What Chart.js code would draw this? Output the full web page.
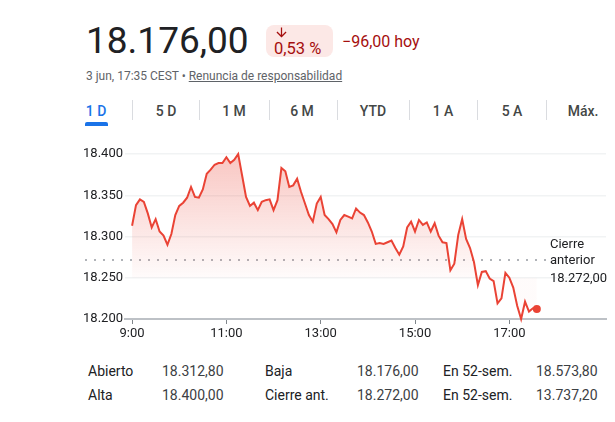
<!DOCTYPE html>
<html><head><meta charset="utf-8">
<script src="https://cdn.jsdelivr.net/npm/chart.js@4"></script>
<style>
body{margin:0;width:615px;height:422px;background:#fff;font-family:Roboto,Arial,sans-serif;color:#202124;position:relative;overflow:hidden}
.a{position:absolute;white-space:nowrap}
.tab{position:absolute;top:104px;font-size:14px;line-height:14px;font-weight:500;color:#444746;transform:translateX(-50%);white-space:nowrap}
.sep{position:absolute;top:100px;width:1px;height:20px;background:#dadce0}
.t{position:absolute;font-size:14px;line-height:14px;white-space:nowrap}
.l{color:#202124}.v{color:#3c4043}
</style></head><body>
<div class="a" style="left:86px;top:22px;font-size:37px;line-height:37px">18.176,00</div>
<div class="a" style="left:266px;top:25px;width:67px;height:32px;background:#fce8e6;border-radius:8px"></div>
<svg class="a" style="left:274px;top:25px" width="15" height="15" viewBox="0 0 24 24"><path d="M20 12l-1.41-1.41L13 16.17V4h-2v12.17l-5.58-5.59L4 12l8 8 8-8z" fill="#a50e0e"/></svg>
<div class="a" style="left:274px;top:41px;font-size:16.5px;line-height:16px;color:#a50e0e">0,53 %</div>
<div class="a" style="left:342px;top:33.5px;font-size:16px;line-height:16px;color:#a50e0e">−96,00 hoy</div>
<div class="a" style="left:86px;top:70px;font-size:12px;line-height:12px;color:#5f6368">3 jun, 17:35 CEST • <span style="text-decoration:underline">Renuncia de responsabilidad</span></div>

<div class="tab" style="left:96px;color:#1a73e8">1 D</div>
<div class="a" style="left:85px;top:122px;width:23px;height:4px;background:#1a73e8;border-radius:2px 2px 0 0"></div>
<div class="sep" style="left:132px"></div>
<div class="tab" style="left:166px">5 D</div>
<div class="sep" style="left:199px"></div>
<div class="tab" style="left:234px">1 M</div>
<div class="sep" style="left:269px"></div>
<div class="tab" style="left:302px">6 M</div>
<div class="sep" style="left:337px"></div>
<div class="tab" style="left:373px">YTD</div>
<div class="sep" style="left:409px"></div>
<div class="tab" style="left:443px">1 A</div>
<div class="sep" style="left:477px"></div>
<div class="tab" style="left:512px">5 A</div>
<div class="sep" style="left:546px"></div>
<div class="tab" style="left:583px">Máx.</div>

<canvas id="c" width="615" height="200" style="position:absolute;left:0;top:142px;width:615px;height:200px"></canvas>

<div class="t l" style="left:88px;top:364px">Abierto</div>
<div class="t v" style="left:162px;top:364px">18.312,80</div>
<div class="t l" style="left:265px;top:364px">Baja</div>
<div class="t v" style="left:357px;top:364px">18.176,00</div>
<div class="t l" style="left:443px;top:364px">En 52-sem.</div>
<div class="t v" style="left:536px;top:364px">18.573,80</div>
<div class="t l" style="left:88px;top:388px">Alta</div>
<div class="t v" style="left:162px;top:388px">18.400,00</div>
<div class="t l" style="left:265px;top:388px">Cierre ant.</div>
<div class="t v" style="left:357px;top:388px">18.272,00</div>
<div class="t l" style="left:443px;top:388px">En 52-sem.</div>
<div class="t v" style="left:536px;top:388px">13.737,20</div>

<script>
// Intraday index level, one value every 5 minutes from 9:00 to 17:35
const values = [
18313,18338,18345,18342,18328,18311,18321,18306,18301,18290,
18303,18326,18337,18341,18347,18360,18348,18347,18357,18376,
18381,18387,18389,18389,18396,18389,18393,18400,18374,18348,
18337,18341,18332,18342,18344,18345,18332,18344,18383,18379,
18360,18362,18370,18354,18340,18326,18318,18340,18348,18326,
18321,18315,18305,18320,18326,18324,18322,18334,18329,18326,
18317,18306,18291,18292,18291,18293,18295,18286,18278,18288,
18311,18318,18306,18320,18314,18317,18306,18316,18301,18293,
18292,18259,18267,18302,18321,18297,18286,18269,18241,18257,
18258,18249,18246,18219,18225,18256,18250,18238,18216,18200,
18221,18209,18213,18212
];
const stepMinutes = 5;          // sampling interval, minutes after 9:00
const startHour = 9;
const prevClose = 18272;
const prevCloseLabel = ['Cierre', 'anterior', '18.272,00'];
const xTickMinutes = [0, 120, 240, 360, 480];
const yMin = 18200, yMax = 18400, yStep = 50;

const points = values.map((v, i) => ({x: i * stepMinutes, y: v}));
function fmtK(v){ const s = String(Math.round(v)); return s.slice(0, -3) + '.' + s.slice(-3); }

const prevClosePlugin = {
  id: 'prevClose',
  beforeDatasetsDraw(chart){
    const c = chart.ctx, y = chart.scales.y.getPixelForValue(prevClose);
    c.save();
    c.fillStyle = '#b0b3b8';
    for (let x = 86; x <= 546; x += 9) c.fillRect(x - 1, Math.round(y) - 1, 2, 2);
    c.restore();
  },
  afterDraw(chart){
    const c = chart.ctx, y = chart.scales.y.getPixelForValue(prevClose);
    c.save();
    c.font = '13px Roboto, Arial, sans-serif';
    c.fillStyle = '#202124';
    c.textBaseline = 'alphabetic';
    c.textAlign = 'left';
    const off = [-16.5, 0, 17.5];
    prevCloseLabel.forEach((t, i) => c.fillText(t, 550, y + off[i] + 4.6));
    c.restore();
  }
};

new Chart(document.getElementById('c'), {
  type: 'line',
  data: { datasets: [{
    data: points,
    borderColor: '#ea4335',
    borderWidth: 2,
    tension: 0,
    fill: {value: 18250},
    backgroundColor: (ctx) => {
      const ch = ctx.chart;
      if (!ch.chartArea) return 'transparent';
      const ys = ch.scales.y;
      const g = ch.ctx.createLinearGradient(0, ys.getPixelForValue(18400), 0, ys.getPixelForValue(18250));
      g.addColorStop(0, 'rgba(234,67,53,0.30)');
      g.addColorStop(1, 'rgba(234,67,53,0.02)');
      return g;
    },
    pointRadius: (ctx) => ctx.dataIndex === values.length - 1 ? 4 : 0,
    pointBackgroundColor: '#ea4335',
    pointBorderWidth: 0,
    clip: false
  }]},
  options: {
    responsive: false,
    animation: false,
    layout: { padding: { left: 0, right: 9, top: 12, bottom: 0 } },
    plugins: { legend: {display: false}, tooltip: {enabled: false} },
    scales: {
      x: {
        type: 'linear', min: -9, max: 603,
        afterBuildTicks: (ax) => { ax.ticks = xTickMinutes.map(v => ({value: v})); },
        afterFit: (s) => { s.height = 23; },
        grid: { drawOnChartArea: false, drawTicks: true, tickLength: 5, color: '#80868b', lineWidth: 1 },
        border: { display: true, color: '#bdc1c6', width: 2 },
        ticks: { padding: 2, maxRotation: 0, autoSkip: false, color: '#202124',
          font: { family: 'Roboto', size: 13 },
          callback: (v) => (startHour + v / 60) + ':00' }
      },
      y: {
        min: yMin, max: yMax,
        afterFit: (s) => { s.width = 125; },
        ticks: { stepSize: yStep, padding: 2, color: '#202124',
          font: { family: 'Roboto', size: 13 }, callback: (v) => fmtK(v) },
        grid: { drawTicks: false, color: '#f1f3f4', lineWidth: 1.5 },
        border: { display: false }
      }
    }
  },
  plugins: [prevClosePlugin]
});
</script>
</body></html>
